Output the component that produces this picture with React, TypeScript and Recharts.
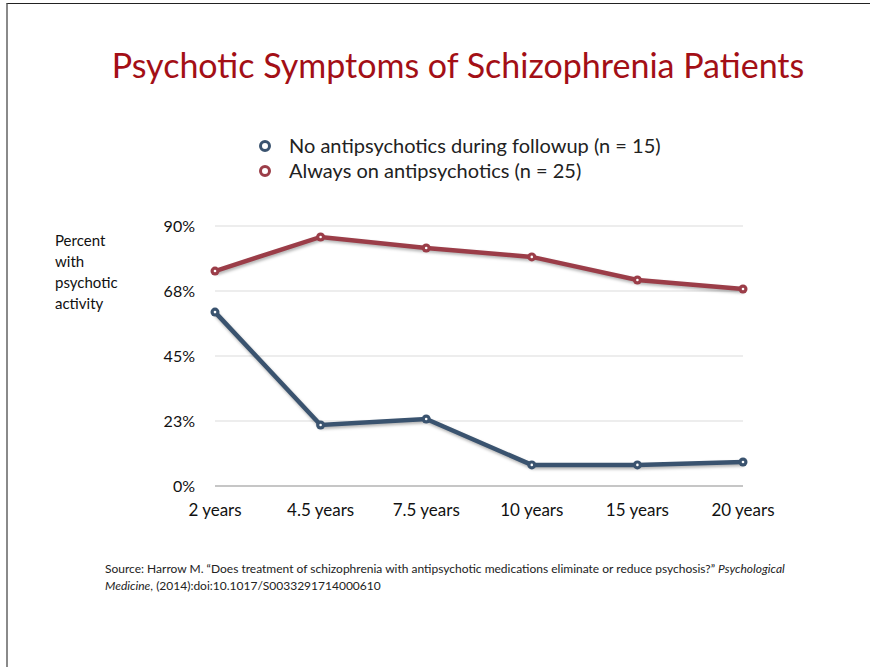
import { CartesianGrid, Line, LineChart, ReferenceLine, XAxis, YAxis } from 'recharts';

const YEARS = ['2 years', '4.5 years', '7.5 years', '10 years', '15 years', '20 years'];
const NO_ANTIPSYCHOTICS = [60.2, 21.1, 23.2, 7.3, 7.3, 8.3];
const ALWAYS_ON = [74.4, 86.2, 82.4, 79.3, 71.3, 68.2];
const Y_TICKS = [0, 22.5, 45, 67.5, 90];

const BLUE = '#3a536f';
const RED = '#9b3d48';
const FONT = 'Lato, "Open Sans", sans-serif';

const SERIES = [
  { key: 'none', name: 'No antipsychotics during followup (n = 15)', color: BLUE },
  { key: 'always', name: 'Always on antipsychotics (n = 25)', color: RED },
];

const data = YEARS.map((year, i) => ({
  year,
  none: NO_ANTIPSYCHOTICS[i],
  always: ALWAYS_ON[i],
}));

function Dot(props: any) {
  const { cx, cy, stroke } = props;
  if (cx == null || cy == null) return null;
  return (
    <g>
      <circle cx={cx} cy={cy} r={4.5} fill={stroke} />
      <circle cx={cx} cy={cy} r={1.3} fill="#fff" />
    </g>
  );
}

function LegendBox() {
  return (
    <div style={{ fontFamily: FONT, fontSize: 20, color: '#222', lineHeight: '25px' }}>
      {SERIES.map((s) => (
        <div key={s.key} style={{ display: 'flex', alignItems: 'center' }}>
          <svg width={34} height={14}>
            <circle cx={10} cy={7} r={4.5} fill="none" stroke={s.color} strokeWidth={3} />
          </svg>
          <span>{s.name}</span>
        </div>
      ))}
    </div>
  );
}

export default function App() {
  return (
    <div style={{ position: 'absolute', left: 0, top: 0, width: 870, height: 667, background: '#fff', overflow: 'hidden' }}>
      <div
        style={{
          position: 'absolute',
          left: 6,
          top: 3,
          width: 862,
          height: 700,
          borderTop: '1.5px solid #222',
          borderLeft: '2px solid #8a8a8a',
          borderRight: '2px solid #222',
        }}
      />
      <div
        style={{
          position: 'absolute',
          left: 0,
          top: 44,
          width: 916,
          textAlign: 'center',
          fontFamily: FONT,
          fontSize: 34,
          color: '#a30f16',
        }}
      >
        Psychotic Symptoms of Schizophrenia Patients
      </div>
      <div style={{ position: 'absolute', left: 255, top: 133 }}>
        <LegendBox />
      </div>
      <div
        style={{
          position: 'absolute',
          left: 55,
          top: 230,
          fontFamily: FONT,
          fontSize: 15,
          lineHeight: '21px',
          color: '#111',
        }}
      >
        Percent
        <br />
        with
        <br />
        psychotic
        <br />
        activity
      </div>
      <div style={{ position: 'absolute', left: 0, top: 0 }}>
        <LineChart width={870} height={667} data={data} margin={{ top: 226, right: 127, left: 145, bottom: 151 }}>
          <CartesianGrid vertical={false} stroke="#dcdcdc" strokeWidth={1.2} />
          <ReferenceLine y={0} stroke="#a0a0a0" strokeWidth={1.2} />
          <XAxis
            dataKey="year"
            axisLine={false}
            tickLine={false}
            height={30}
            tick={{ fill: '#111', fontSize: 17, fontFamily: FONT }}
            tickMargin={12}
            interval={0}
          />
          <YAxis
            type="number"
            domain={[0, 90]}
            ticks={Y_TICKS}
            width={70}
            axisLine={false}
            tickLine={false}
            tickFormatter={(v: number) => `${Math.round(v)}%`}
            tick={{ fill: '#111', fontSize: 16, fontFamily: FONT, dy: 0 }}
            tickMargin={14}
          />
          {SERIES.map((s) => (
            <Line
              key={s.key}
              dataKey={s.key}
              name={s.name}
              stroke={s.color}
              strokeWidth={4.5}
              dot={<Dot />}
              activeDot={false}
              isAnimationActive={false}
              style={{ filter: 'drop-shadow(1px 2px 1.5px rgba(0,0,0,0.3))' }}
            />
          ))}
        </LineChart>
      </div>
      <div
        style={{
          position: 'absolute',
          left: 105,
          top: 560,
          fontFamily: FONT,
          fontSize: 12,
          lineHeight: '17px',
          color: '#222',
          width: 740,
        }}
      >
        Source: Harrow M. “Does treatment of schizophrenia with antipsychotic medications eliminate or reduce psychosis?”{' '}
        <i>Psychological</i>
        <br />
        <i>Medicine</i>, (2014):doi:10.1017/S0033291714000610
      </div>
    </div>
  );
}
